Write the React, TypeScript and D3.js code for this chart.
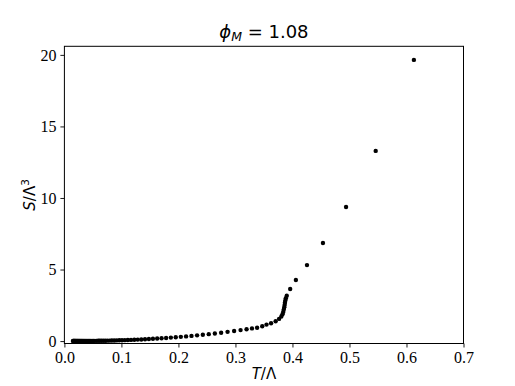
import { useEffect, useRef } from 'react';
import * as d3 from 'd3';

// temperature T/Λ of each point
const tValues = [
  0.0150, 0.0158, 0.0166, 0.0174, 0.0183, 0.0192, 0.0202, 0.0212, 0.0223, 0.0234,
  0.0246, 0.0258, 0.0271, 0.0285, 0.0299, 0.0314, 0.0330, 0.0346, 0.0363, 0.0381,
  0.0400, 0.0420, 0.0441, 0.0463, 0.0486, 0.0510, 0.0536, 0.0563, 0.0591, 0.0620,
  0.0651, 0.0684, 0.0718, 0.0754, 0.0792, 0.0831, 0.0873, 0.0916, 0.0962, 0.1010,
  0.1060, 0.1113, 0.1168, 0.1226, 0.1286, 0.1349, 0.1414, 0.1482, 0.1553, 0.1627,
  0.1704, 0.1784, 0.1867, 0.1953, 0.2042, 0.2134, 0.2229, 0.2327, 0.2428, 0.2532,
  0.2639, 0.2749, 0.2862, 0.2977, 0.3090, 0.3195, 0.3290, 0.3380, 0.3470, 0.3545,
  0.3625, 0.3705, 0.3765, 0.3805, 0.3825, 0.3838, 0.3848, 0.3856, 0.3863, 0.3868,
  0.3875, 0.3884, 0.3900, 0.3960, 0.4060, 0.4255, 0.4535, 0.4940, 0.5460, 0.6130
];

// entropy density S/Λ^3 of each point
const sValues = [
  0.0007, 0.0008, 0.0009, 0.0010, 0.0011, 0.0013, 0.0014, 0.0016, 0.0018, 0.0020,
  0.0022, 0.0025, 0.0028, 0.0031, 0.0036, 0.0040, 0.0045, 0.0050, 0.0055, 0.0062,
  0.0070, 0.0078, 0.0087, 0.0098, 0.0110, 0.0122, 0.0137, 0.0154, 0.0172, 0.0192,
  0.0213, 0.0239, 0.0267, 0.0299, 0.0334, 0.0374, 0.0419, 0.0467, 0.0523, 0.0585,
  0.0652, 0.0729, 0.0814, 0.0909, 0.1020, 0.1138, 0.1268, 0.1413, 0.1574, 0.1752,
  0.1951, 0.2170, 0.2412, 0.2666, 0.2954, 0.3269, 0.3616, 0.3994, 0.4400, 0.4845,
  0.5330, 0.5859, 0.6435, 0.7029, 0.7660, 0.8270, 0.8840, 0.9300, 1.0400, 1.1500,
  1.2500, 1.3800, 1.5500, 1.7200, 1.8800, 2.0400, 2.2000, 2.3600, 2.5200, 2.6800,
  2.8400, 3.0000, 3.1700, 3.6400, 4.2700, 5.3100, 6.8500, 9.3700, 13.2900, 19.6500
];

const xTicks = [0, 0.1, 0.2, 0.3, 0.4, 0.5, 0.6, 0.7];
const yTicks = [0, 5, 10, 15, 20];

export default function App() {
  const svgRef = useRef<SVGSVGElement | null>(null);

  useEffect(() => {
    if (!svgRef.current) return;
    const width = 515;
    const height = 386;
    const margin = { top: 46.3, right: 51.5, bottom: 42.5, left: 64.4 };
    const w = width - margin.left - margin.right;
    const h = height - margin.top - margin.bottom;

    const svg = d3.select(svgRef.current);
    svg.selectAll('*').remove();

    const g = svg.append('g')
      .attr('transform', `translate(${margin.left},${margin.top})`);

    const x = d3.scaleLinear().domain([0, 0.7]).range([0, w]);
    const y = d3.scaleLinear().domain([-0.17, 20.6]).range([h, 0]);

    const points = tValues.map((t, i) => ({ t, s: sValues[i] }));

    // points
    g.selectAll('.pt')
      .data(points)
      .enter().append('circle')
      .attr('class', 'pt')
      .attr('cx', d => x(d.t))
      .attr('cy', d => y(d.s))
      .attr('r', 2.2)
      .attr('fill', '#000');

    // axes
    const xAxis = g.append('g')
      .attr('transform', `translate(0,${h})`)
      .call(d3.axisBottom(x).tickValues(xTicks).tickFormat(d3.format('.1f'))
        .tickSize(4).tickPadding(4).tickSizeOuter(0));
    const yAxis = g.append('g')
      .call(d3.axisLeft(y).tickValues(yTicks).tickFormat(d3.format('d'))
        .tickSize(4).tickPadding(4).tickSizeOuter(0));

    [xAxis, yAxis].forEach(ax => {
      ax.select('.domain').remove();
      ax.selectAll('line').attr('stroke', '#000').attr('stroke-width', 0.9);
      ax.selectAll('text')
        .style('font-family', '"Liberation Serif", "DejaVu Serif", serif')
        .style('font-size', '16px')
        .attr('fill', '#000');
    });

    // frame
    g.append('rect')
      .attr('x', 0).attr('y', 0)
      .attr('width', w).attr('height', h)
      .attr('fill', 'none')
      .attr('stroke', '#000')
      .attr('stroke-width', 1);

    const sans = '"DejaVu Sans", sans-serif';

    // title
    const title = svg.append('text')
      .attr('x', margin.left + w / 2)
      .attr('y', 38)
      .attr('text-anchor', 'middle')
      .style('font-family', sans)
      .style('font-size', '18px');
    title.append('tspan').style('font-style', 'italic').text('ϕ');
    title.append('tspan').style('font-style', 'italic').style('font-size', '12.5px')
      .attr('dy', 3).text('M');
    title.append('tspan').attr('dy', -3).text(' = 1.08');

    // x label
    const xl = svg.append('text')
      .attr('x', margin.left + w / 2)
      .attr('y', 379)
      .attr('text-anchor', 'middle')
      .style('font-family', sans)
      .style('font-size', '15px');
    xl.append('tspan').style('font-style', 'italic').text('T');
    xl.append('tspan').text('/Λ');

    // y label
    const yl = svg.append('text')
      .attr('transform', `translate(35,${margin.top + h / 2}) rotate(-90)`)
      .attr('text-anchor', 'middle')
      .style('font-family', sans)
      .style('font-size', '15px');
    yl.append('tspan').style('font-style', 'italic').text('S');
    yl.append('tspan').text('/Λ');
    yl.append('tspan').style('font-size', '10.5px').attr('dy', -6).text('3');
  }, []);

  return (
    <div style={{ position: 'fixed', left: 0, top: 0 }}>
      <svg ref={svgRef} width={515} height={386} style={{ display: 'block', background: '#fff' }} />
    </div>
  );
}
